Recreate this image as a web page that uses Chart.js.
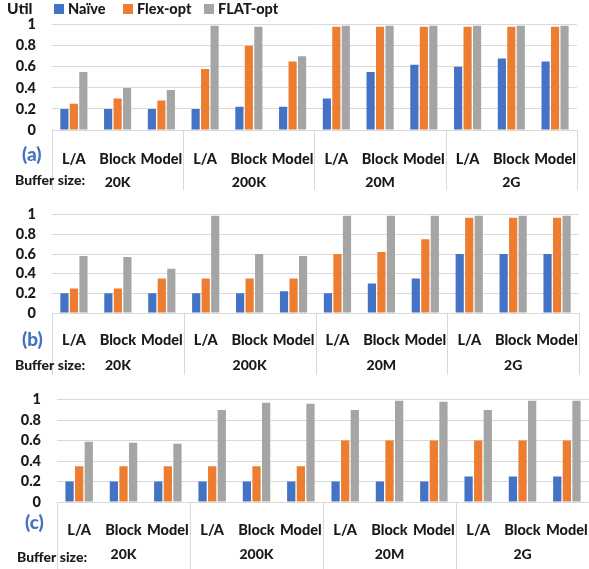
<!DOCTYPE html>
<html>
<head>
<meta charset="utf-8">
<script src="https://cdn.jsdelivr.net/npm/chart.js@4"></script>
<style>
  body { margin: 0; background: #fff; overflow: hidden; width: 589px; height: 569px; position: relative; }
  canvas { position: absolute; left: 0; }
</style>
</head>
<body>
<canvas id="chartA" width="589" height="190" style="top:0px"></canvas>
<canvas id="chartB" width="589" height="185" style="top:190px"></canvas>
<canvas id="chartC" width="600" height="194" style="top:375px"></canvas>
<script>
const categories = ["L/A", "Block", "Model", "L/A", "Block", "Model", "L/A", "Block", "Model", "L/A", "Block", "Model"];
const bufferSizes = ["20K", "200K", "20M", "2G"];
const seriesNames = ["Naïve", "Flex-opt", "FLAT-opt"];
const yTicks = [0, 0.2, 0.4, 0.6, 0.8, 1];
const yTickLabels = ["0", "0.2", "0.4", "0.6", "0.8", "1"];

// panel (a)
const naiveA = [0.2, 0.2, 0.2, 0.2, 0.22, 0.22, 0.3, 0.55, 0.62, 0.6, 0.68, 0.65];
const flexA = [0.25, 0.3, 0.28, 0.58, 0.8, 0.65, 0.98, 0.98, 0.98, 0.98, 0.98, 0.98];
const flatA = [0.55, 0.4, 0.38, 0.99, 0.98, 0.7, 0.99, 0.99, 0.99, 0.99, 0.99, 0.99];
// panel (b)
const naiveB = [0.2, 0.2, 0.2, 0.2, 0.2, 0.22, 0.2, 0.3, 0.35, 0.6, 0.6, 0.6];
const flexB = [0.25, 0.25, 0.35, 0.35, 0.35, 0.35, 0.6, 0.62, 0.75, 0.97, 0.97, 0.97];
const flatB = [0.58, 0.57, 0.45, 0.99, 0.6, 0.58, 0.99, 0.99, 0.99, 0.99, 0.99, 0.99];
// panel (c)
const naiveC = [0.2, 0.2, 0.2, 0.2, 0.2, 0.2, 0.2, 0.2, 0.2, 0.25, 0.25, 0.25];
const flexC = [0.35, 0.35, 0.35, 0.35, 0.35, 0.35, 0.6, 0.6, 0.6, 0.6, 0.6, 0.6];
const flatC = [0.59, 0.58, 0.57, 0.9, 0.97, 0.96, 0.9, 0.99, 0.98, 0.9, 0.99, 0.99];

const colors = ["#4472C4", "#ED7D31", "#A5A5A5"];
const FONT = "Lato, 'Open Sans', sans-serif";
const TEXT = "#1a1a1a";
const GRID = "#d9d9d9";

Chart.defaults.font.family = FONT;
Chart.defaults.color = TEXT;

// draws legend, panel tag, group labels and separators
const deco = {
  id: "deco",
  afterDraw(chart, args, opts) {
    const ctx = chart.ctx;
    const x = chart.scales.x;
    const area = chart.chartArea;
    const w = (area.right - area.left) / categories.length;
    ctx.save();
    // separators below the axis
    ctx.strokeStyle = GRID;
    ctx.lineWidth = 1;
    for (let g = 0; g <= bufferSizes.length; g++) {
      const px = Math.round(area.left + g * 3 * w) + 0.5;
      ctx.beginPath();
      ctx.moveTo(px, area.bottom);
      ctx.lineTo(px, chart.height);
      ctx.stroke();
    }
    ctx.textBaseline = "middle";
    ctx.fillStyle = TEXT;
    ctx.font = "900 14px " + FONT;
    ctx.textAlign = "center";
    bufferSizes.forEach((b, g) => {
      ctx.fillText(b, x.getPixelForValue(g * 3 + 1), opts.groupY);
    });
    ctx.textAlign = "left";
    ctx.fillText("Buffer size:", opts.bufX, opts.bufY);
    ctx.fillStyle = "#4472C4";
    ctx.font = "900 19px " + FONT;
    ctx.fillText(opts.tag, opts.tagX, opts.tagY);
    if (opts.legend) {
      ctx.fillStyle = TEXT;
      ctx.font = "900 15.5px " + FONT;
      ctx.fillText("Util", 7, 9);
      const pos = [54, 123, 204];
      ctx.font = "900 14.5px " + FONT;
      chart.data.datasets.forEach((ds, i) => {
        ctx.fillStyle = ds.backgroundColor;
        ctx.fillRect(pos[i], 4, 10, 10);
        ctx.fillStyle = TEXT;
        ctx.fillText(ds.label, pos[i] + 14, 9);
      });
    }
    ctx.restore();
  }
};

function makeChart(id, data, layout) {
  return new Chart(id, {
    type: "bar",
    data: {
      labels: categories,
      datasets: data.map((d, i) => ({
        label: seriesNames[i],
        data: d,
        backgroundColor: colors[i],
        borderWidth: 0,
        categoryPercentage: 0.65,
        barPercentage: 0.86
      }))
    },
    options: {
      responsive: false,
      animation: false,
      layout: { padding: { top: layout.top, right: layout.right, left: 0, bottom: 0 } },
      plugins: {
        legend: { display: false },
        tooltip: { enabled: false },
        deco: layout.deco
      },
      scales: {
        x: {
          grid: { display: false },
          border: { display: false },
          ticks: { font: { size: 14.5, weight: 900 }, padding: layout.labelPad, maxRotation: 0, autoSkip: false },
          afterFit(s) { s.height = layout.axisH; }
        },
        y: {
          min: 0,
          max: 1,
          grid: { color: GRID, drawTicks: false },
          border: { display: false },
          ticks: {
            font: { size: 14.5, weight: 900 },
            padding: 16,
            autoSkip: false,
            callback: (v) => yTickLabels[yTicks.indexOf(v)]
          },
          afterBuildTicks(s) { s.ticks = yTicks.map(v => ({ value: v })); },
          afterFit(s) { s.width = layout.left; }
        }
      }
    },
    plugins: [deco]
  });
}

makeChart("chartA", [naiveA, flexA, flatA], {
  top: 23, right: 2, left: 52, axisH: 60, labelPad: 13,
  deco: { legend: true, tag: "(a)", tagX: 22, tagY: 155, bufX: 15, bufY: 180, groupY: 182 }
});
makeChart("chartB", [naiveB, flexB, flatB], {
  top: 13, right: 2, left: 52, axisH: 62, labelPad: 11,
  deco: { legend: false, tag: "(b)", tagX: 22, tagY: 150, bufX: 15, bufY: 175, groupY: 175 }
});
makeChart("chartC", [naiveC, flexC, flatC], {
  top: 18, right: 7, left: 57, axisH: 67, labelPad: 12,
  deco: { legend: false, tag: "(c)", tagX: 25, tagY: 148, bufX: 17, bufY: 182, groupY: 179 }
});
</script>
</body>
</html>
